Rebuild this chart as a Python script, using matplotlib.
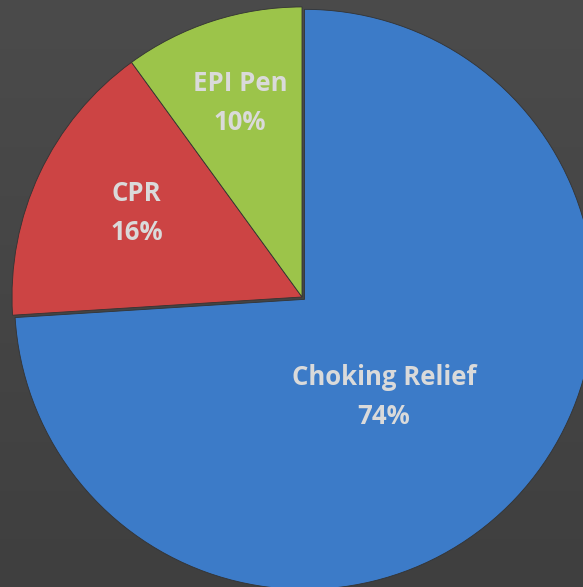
import matplotlib
matplotlib.use("Agg")
import matplotlib.pyplot as plt
import numpy as np

categories = ["Choking Relief", "CPR", "EPI Pen"]
values = [74, 16, 10]
colors = ["#3C7BC8", "#CC4444", "#9CC44A"]

fig = plt.figure(figsize=(5.83, 5.87), dpi=100)
fig.patch.set_facecolor("#454545")
ax = fig.add_axes([0, 0, 1, 1])
ax.set_facecolor("#454545")

# subtle background gradient
grad = np.linspace(0, 1, 256).reshape(-1, 1)
ax.imshow(grad, extent=[-1.05, 0.98, -1.01, 1.03], cmap=matplotlib.colors.LinearSegmentedColormap.from_list("bg", ["#3f3f3f", "#4b4b4b"]),
          aspect="auto", zorder=0, origin="lower")

wedges, texts = ax.pie(values, colors=colors, startangle=90, counterclock=False,
                       explode=[0.012, 0, 0], radius=1.0, center=(0, 0),
                       wedgeprops=dict(linewidth=0.6, edgecolor="#333333"))
for w in wedges:
    w.set_zorder(2)

label_pos = [(0.283, -0.345), (-0.570, 0.290), (-0.214, 0.669)]
for cat, val, (x, y) in zip(categories, values, label_pos):
    ax.text(x, y, f"{cat}\n{val}%", ha="center", va="center", color="#DADADA",
            fontsize=18.5, fontweight="bold", family="Open Sans", linespacing=1.6, zorder=3)

ax.set_xlim(-1.0414, 0.969)
ax.set_ylim(-1.0, 1.024)
ax.set_aspect("auto")
ax.axis("off")

fig.savefig("out.png", dpi=100, facecolor=fig.get_facecolor())
